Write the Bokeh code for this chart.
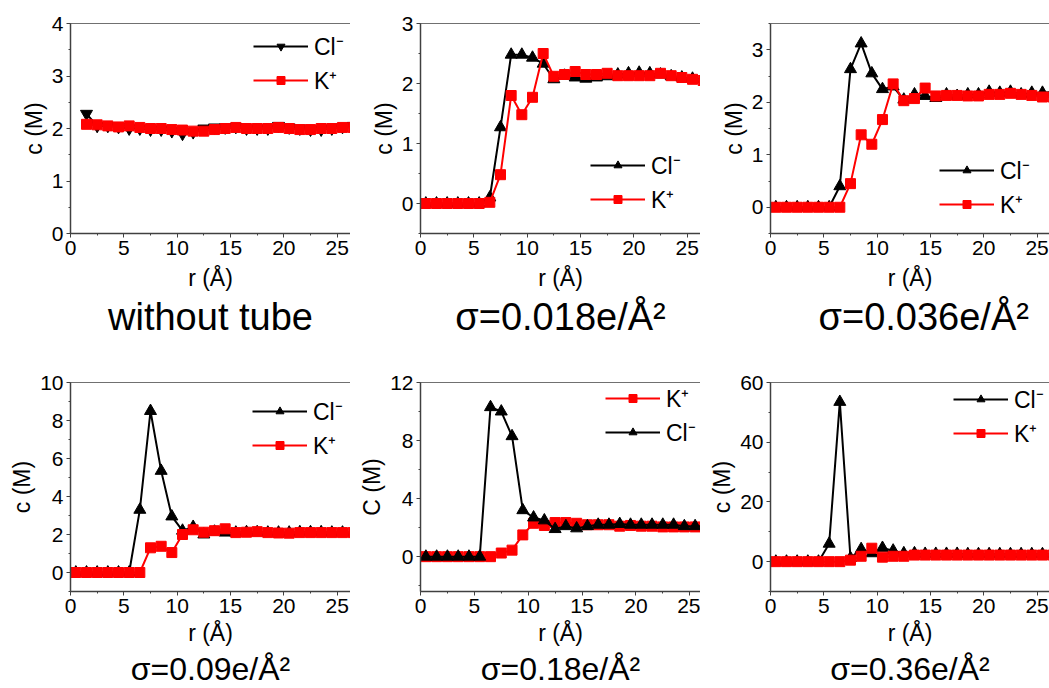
from bokeh.plotting import figure
from bokeh.models import Legend, LegendItem, Title, SingleIntervalTicker, Range1d, LinearAxis, FixedTicker
from bokeh.layouts import column, row
from bokeh.embed import file_html
from bokeh.resources import INLINE

# ---------------- data ----------------
R = [0.5, 1.5, 2.5, 3.5, 4.5, 5.5, 6.5, 7.5, 8.5, 9.5, 10.5, 11.5, 12.5, 13.5,
     14.5, 15.5, 16.5, 17.5, 18.5, 19.5, 20.5, 21.5, 22.5, 23.5, 24.5, 25.5, 26.5]
R1 = [1.5, 2.5, 3.5, 4.5, 5.5, 6.5, 7.5, 8.5, 9.5, 10.5, 11.5, 12.5, 13.5,
      14.5, 15.5, 16.5, 17.5, 18.5, 19.5, 20.5, 21.5, 22.5, 23.5, 24.5, 25.5, 26.5]

cl_1 = [2.28, 2.05, 2.05, 2.03, 2.00, 2.00, 1.98, 1.98, 1.95, 1.90, 1.93, 2.00, 2.02,
        2.02, 2.03, 2.00, 2.00, 2.00, 2.05, 2.02, 2.00, 1.98, 1.98, 2.00, 2.03, 2.05]
k_1 = [2.08, 2.07, 2.05, 2.03, 2.05, 2.02, 2.00, 2.00, 1.98, 1.97, 1.95, 1.95, 1.98,
       2.00, 2.02, 2.00, 2.00, 2.00, 2.02, 2.00, 1.98, 1.98, 2.00, 2.00, 2.02, 2.02]

cl_2 = [0, 0, 0, 0, 0, 0, 0.10, 1.27, 2.48, 2.48, 2.43, 2.33, 2.07, 2.13, 2.10, 2.08,
        2.10, 2.12, 2.15, 2.17, 2.18, 2.17, 2.15, 2.12, 2.10, 2.08, 2.08]
k_2 = [0, 0, 0, 0, 0, 0, 0.02, 0.48, 1.80, 1.48, 1.77, 2.50, 2.12, 2.15, 2.20, 2.15,
       2.15, 2.17, 2.13, 2.13, 2.13, 2.13, 2.17, 2.13, 2.10, 2.07, 2.05]

cl_3 = [0, 0, 0, 0, 0, 0, 0.40, 2.63, 3.12, 2.55, 2.25, 2.30, 2.05, 2.15, 2.12, 2.08,
        2.15, 2.12, 2.15, 2.15, 2.20, 2.18, 2.20, 2.15, 2.18, 2.18, 2.20]
k_3 = [0, 0, 0, 0, 0, 0, 0, 0.45, 1.38, 1.20, 1.67, 2.35, 2.03, 2.07, 2.27, 2.12,
       2.13, 2.13, 2.12, 2.12, 2.15, 2.15, 2.17, 2.15, 2.13, 2.10, 2.10]

cl_4 = [0, 0, 0, 0, 0, 0, 3.30, 8.50, 5.35, 2.95, 2.20, 2.40, 2.00, 2.15, 2.10, 2.10,
        2.12, 2.12, 2.10, 2.10, 2.10, 2.12, 2.12, 2.12, 2.10, 2.10, 2.10]
k_4 = [0, 0, 0, 0, 0, 0, 0, 1.30, 1.38, 1.05, 2.00, 2.25, 2.12, 2.20, 2.30, 2.10,
       2.12, 2.15, 2.10, 2.08, 2.07, 2.10, 2.10, 2.10, 2.10, 2.10, 2.10]

cl_5 = [0, 0, 0, 0, 0, 0, 10.3, 10.0, 8.3, 3.2, 2.7, 2.5, 1.9, 2.1, 1.95, 2.1,
        2.2, 2.2, 2.25, 2.2, 2.2, 2.2, 2.2, 2.2, 2.1, 2.1, 2.1]
k_5 = [0, 0, 0, 0, 0, 0, 0, 0.25, 0.45, 1.5, 2.3, 2.15, 2.35, 2.35, 2.3, 2.2,
       2.2, 2.2, 2.1, 2.15, 2.1, 2.1, 2.05, 2.05, 2.05, 2.05, 2.05]

cl_6 = [0, 0, 0, 0, 0, 6.0, 53.5, 1.2, 4.2, 2.8, 4.6, 3.7, 2.8, 2.8, 2.6, 2.6,
        2.6, 2.6, 2.5, 2.5, 2.5, 2.5, 2.5, 2.5, 2.5, 2.5, 2.5]
k_6 = [0, 0, 0, 0, 0, 0, 0, 0.5, 1.8, 4.5, 1.5, 1.8, 1.8, 2.2, 2.2, 2.2,
       2.2, 2.2, 2.2, 2.2, 2.2, 2.2, 2.2, 2.2, 2.2, 2.2, 2.2]

captions = ["without tube", "σ=0.018e/Å²", "σ=0.036e/Å²",
            "σ=0.09e/Å²", "σ=0.18e/Å²", "σ=0.36e/Å²"]
cl_label = "Cl⁻"
k_label = "K⁺"

FONT = "Liberation Sans"
RED = "#ff0000"
AXC = "#404040"


def panel(width, height, b_top, b_bottom, x_end, y_range, y_int,
          ylabel, caption, cap_size, xlab_std, xs, cl, k, cl_marker, legend_xy,
          k_first=False, cap_offset=None):
    p = figure(width=width, height=height, output_backend="svg", toolbar_location=None,
               x_range=Range1d(0, x_end), y_range=Range1d(*y_range),
               min_border_left=70, min_border_right=0,
               min_border_top=b_top, min_border_bottom=b_bottom)
    p.outline_line_color = None
    p.grid.visible = False
    p.background_fill_color = "white"

    p.xaxis.ticker = SingleIntervalTicker(interval=5, num_minor_ticks=2)
    p.yaxis.ticker = SingleIntervalTicker(interval=y_int, num_minor_ticks=2)
    for ax in (p.xaxis, p.yaxis):
        ax.axis_line_color = AXC
        ax.axis_line_width = 1.5
        ax.major_tick_line_color = AXC
        ax.minor_tick_line_color = AXC
        ax.major_tick_out = 4
        ax.major_tick_in = 0
        ax.minor_tick_out = 2
        ax.minor_tick_in = 0
        ax.major_label_standoff = 3
        ax.major_label_text_font = FONT
        ax.major_label_text_font_size = "21px"
        ax.major_label_text_color = "black"
        ax.axis_label_text_font = FONT
        ax.axis_label_text_font_size = "23px"
        ax.axis_label_text_font_style = "normal"
        ax.axis_label_text_color = "black"
        ax.axis_label_standoff = 2
    p.xaxis.axis_label_standoff = xlab_std
    p.xaxis.axis_label = "r (Å)"
    p.yaxis.axis_label = ylabel

    top = LinearAxis(ticker=FixedTicker(ticks=[]), axis_line_color="#707070",
                     axis_line_width=1, major_tick_out=0, minor_tick_out=0,
                     major_tick_in=0, minor_tick_in=0)
    p.add_layout(top, "above")

    def draw_cl():
        l = p.line(xs, cl, line_color="black", line_width=2)
        s = p.scatter(xs, cl, marker=cl_marker, size=12, fill_color="black",
                      line_color="black")
        return [l, s]

    def draw_k():
        l = p.line(xs, k, line_color=RED, line_width=2)
        s = p.scatter(xs, k, marker="square", size=10, fill_color=RED, line_color=RED)
        return [l, s]

    if k_first:
        rk = draw_k()
        rc = draw_cl()
        items = [LegendItem(label=k_label, renderers=rk), LegendItem(label=cl_label, renderers=rc)]
    else:
        rc = draw_cl()
        rk = draw_k()
        items = [LegendItem(label=cl_label, renderers=rc), LegendItem(label=k_label, renderers=rk)]

    leg = Legend(items=items, location=legend_xy, border_line_color=None,
                 background_fill_alpha=0, padding=0, margin=0, spacing=2,
                 glyph_width=55, glyph_height=20, label_height=20,
                 label_standoff=6, label_text_font=FONT, label_text_font_size="23px",
                 label_text_color="black")
    p.add_layout(leg)

    if cap_offset is None:
        t = Title(text=caption, align="center", text_font=FONT, text_font_size=cap_size,
                  text_font_style="normal", text_color="black", standoff=0, offset=0)
    else:
        t = Title(text=caption, align="left", text_font=FONT, text_font_size=cap_size,
                  text_font_style="normal", text_color="black", standoff=0, offset=cap_offset)
    p.add_layout(t, "below")
    return p


H1, H2 = 345, 343
T1, B1 = 23, 112
T2, B2 = 37, 97
p1 = panel(350, H1, T1, B1, 26.25, (0, 4), 1, "c (M)", captions[0], "38px", 7, R1, cl_1, k_1,
           "inverted_triangle", (183, 137))
p2 = panel(350, H1, T1, B1, 26.25, (-0.5, 3), 1, "c (M)", captions[1], "38px", 7, R, cl_2, k_2,
           "triangle", (170, 18))
p3 = panel(349, H1, T1, B1, 26.16, (-0.5, 3.5), 1, "c (M)", captions[2], "38px", 7, R, cl_3, k_3,
           "triangle", (169, 13), cap_offset=48)
p4 = panel(350, H2, T2, B2, 26.25, (-1, 10), 2, "c (M)", captions[3], "32px", 4, R, cl_4, k_4,
           "triangle", (182, 130))
p5 = panel(350, H2, T2, B2, 26.0, (-2.4, 12), 4, "C (M)", captions[4], "32px", 4, R, cl_5, k_5,
           "triangle", (185, 143), k_first=True)
p6 = panel(349, H2, T2, B2, 26.16, (-10, 60), 20, "c (M)", captions[5], "32px", 4, R, cl_6, k_6,
           "triangle", (183, 142))

layout = column(row(p1, p2, p3), row(p4, p5, p6))
open("out.html", "w").write(file_html(layout, INLINE))
